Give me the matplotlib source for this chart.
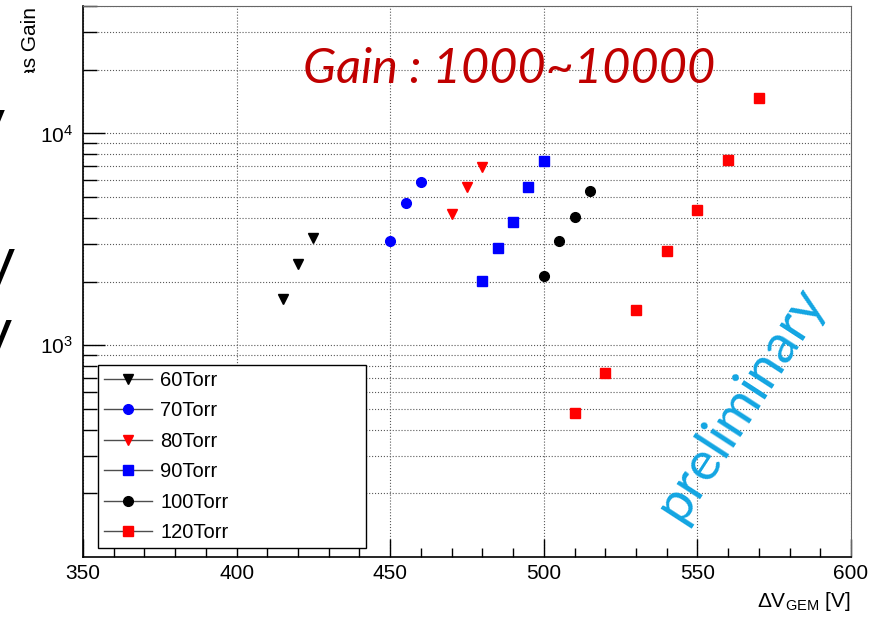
import numpy as np
import matplotlib
matplotlib.use('Agg')
import matplotlib.pyplot as plt
from matplotlib.lines import Line2D
from matplotlib.ticker import LogLocator, FixedLocator, MultipleLocator, NullFormatter
from matplotlib.transforms import Bbox

plt.rcParams['font.family'] = ['Liberation Sans', 'DejaVu Sans']
plt.rcParams['mathtext.fontset'] = 'custom'
plt.rcParams['mathtext.rm'] = 'Liberation Sans'
plt.rcParams['mathtext.it'] = 'Liberation Sans:italic'
plt.rcParams['mathtext.default'] = 'regular'

# 数据: GEM 电压 [V] 与增益
v60 = [415, 420, 425]
g60 = [1650, 2430, 3200]
v70 = [450, 455, 460]
g70 = [3120, 4680, 5870]
v80 = [470, 475, 480]
g80 = [4150, 5590, 6950]
v90 = [480, 485, 490, 495, 500]
g90 = [2010, 2880, 3820, 5580, 7410]
v100 = [500, 505, 510, 515]
g100 = [2130, 3090, 4050, 5340]
v120 = [510, 520, 530, 540, 550, 560, 570]
g120 = [480, 740, 1475, 2790, 4350, 7470, 14760]

labels = ['60Torr', '70Torr', '80Torr', '90Torr', '100Torr', '120Torr']
volts = [v60, v70, v80, v90, v100, v120]
gains = [g60, g70, g80, g90, g100, g120]
markers = ['v', 'o', 'v', 's', 'o', 's']
colors = ['black', 'blue', 'red', 'blue', 'black', 'red']

fig = plt.figure(figsize=(8.79, 6.19), dpi=100)
ax = fig.add_axes([83 / 879, 62 / 619, 768 / 879, 551 / 619])

for v, g, m, c in zip(volts, gains, markers, colors):
    ax.plot(v, g, ls='none', marker=m, color=c, ms=7, zorder=3)

ax.set_yscale('log')
ax.set_xlim(350, 600)
ax.set_ylim(100, 4e4)
ax.xaxis.set_major_locator(MultipleLocator(50))
ax.xaxis.set_minor_locator(MultipleLocator(10))
ax.yaxis.set_major_locator(FixedLocator([1e3, 1e4]))
ax.yaxis.set_minor_locator(LogLocator(subs=np.arange(2, 10)))
ax.yaxis.set_minor_formatter(NullFormatter())

# 网格: y 方向所有刻度, x 方向只在主刻度
ax.yaxis.grid(True, which='both', ls=':', color='0.35', lw=0.8)
ax.xaxis.grid(True, which='major', ls=':', color='0.35', lw=0.8)
ax.set_axisbelow(True)

ax.tick_params(which='both', direction='in', top=False, right=False, width=1,
               labelsize=15)
ax.tick_params(axis='x', which='major', length=13, pad=5)
ax.tick_params(axis='x', which='minor', length=6.5)
ax.tick_params(axis='y', which='major', length=16, pad=7)
ax.tick_params(axis='y', which='minor', length=10)

ax.spines['left'].set_linewidth(1.2)
ax.spines['bottom'].set_linewidth(1.2)
ax.spines['top'].set_color('0.4')
ax.spines['right'].set_color('0.4')

ax.set_xlabel(r'$\Delta$V$_{GEM}$ [V]', fontsize=15, loc='right', labelpad=5)

handles = [Line2D([], [], color='0.3', lw=1, marker=m, mfc=c, mec=c, ms=7)
           for m, c in zip(markers, colors)]
leg = ax.legend(handles, labels, loc='lower left',
                bbox_to_anchor=(0.019, 0.016, 0.349, 0.332), mode='expand',
                fontsize=14.5, fancybox=False, edgecolor='black', framealpha=1,
                handlelength=2.4, handletextpad=0.4, labelspacing=0.57,
                borderpad=0.3, borderaxespad=0)
leg.get_frame().set_linewidth(1.0)

ax.text(0.287, 0.860, 'Gain : 1000~10000', family='Lato', style='italic',
        color='#c00000', fontsize=35, ha='left', va='baseline', zorder=4,
        transform=ax.transAxes)
ax.text(0.856, 0.278, 'preliminary', family='Lato', color='#12a5e2',
        fontsize=39, rotation=57, rotation_mode='anchor',
        ha='center', va='center', zorder=4, transform=ax.transAxes)

# y 轴标题 (下半部分被幻灯片遮住)
yl = fig.text(31 / 879, 1 - 7 / 619, 'Gas Gain', rotation=90, ha='center',
              va='top', fontsize=15)
yl.set_clip_box(Bbox([[0, 619 - 73], [879, 619]]))
yl.set_clip_on(True)

# 幻灯片左侧被截断的文字
for xl, ytop in [(-32, 108), (-22, 247), (-25, 318)]:
    fig.text(xl / 879, 1 - ytop / 619, 'V', fontsize=40,
             ha='left', va='top')

fig.savefig('out.png', dpi=100)
